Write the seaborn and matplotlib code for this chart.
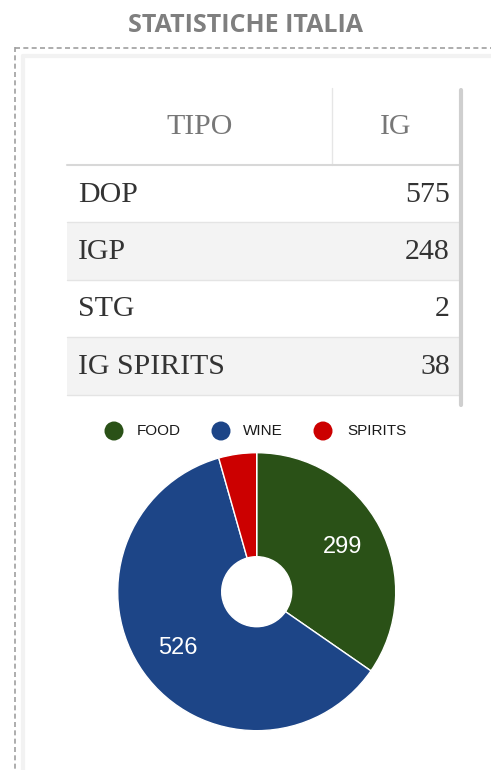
import matplotlib
matplotlib.use("Agg")
import matplotlib.pyplot as plt
from matplotlib.patches import Rectangle, Circle
import seaborn as sns

# ---- data ----
title = "STATISTICHE ITALIA"
table_header = ["TIPO", "IG"]
table_types = ["DOP", "IGP", "STG", "IG SPIRITS"]
table_counts = [575, 248, 2, 38]

pie_categories = ["FOOD", "WINE", "SPIRITS"]
pie_values = [299, 526, 38]
pie_colors = ["#2a5117", "#1d4587", "#cc0000"]

sns.set_theme(style="white")
plt.rcParams['font.family'] = ['DejaVu Sans']

W, H = 491, 770
fig = plt.figure(figsize=(W / 100, H / 100), dpi=100)
fig.patch.set_facecolor("white")

# background axes in pixel coords
bg = fig.add_axes([0, 0, 1, 1])
bg.set_xlim(0, W)
bg.set_ylim(H, 0)
bg.axis("off")

# title
bg.text(246, 25, title, ha="center", va="center", fontsize=18,
        fontweight="bold", color="#7f7f7f", family="Open Sans")

# dashed frame
bg.plot([15.5, 15.5], [47, H], ls=(0, (3, 2)), color="#a0a0a0", lw=1.2)
bg.plot([15.5, W], [47.5, 47.5], ls=(0, (3, 2)), color="#a0a0a0", lw=1.2)
# subtle inner shadow
bg.plot([23, 23], [56, H], color="#f2f2f2", lw=3)
bg.plot([23, W], [56, 56], color="#f2f2f2", lw=3)

# table
tx0, tx1, tdiv = 67, 459, 332
head_top, head_bot = 88, 165
row_h = 57.4
serif = "Liberation Serif"
fs_tab = 21.5
bg.text((tx0 + tdiv) / 2, 127, table_header[0], ha="center", va="center",
        fontsize=fs_tab, color="#777777", family=serif)
bg.text((tdiv + tx1) / 2, 127, table_header[1], ha="center", va="center",
        fontsize=fs_tab, color="#777777", family=serif)
bg.plot([tdiv, tdiv], [head_top, head_bot], color="#e6e6e6", lw=1)
bg.plot([tx0, tx1], [head_bot, head_bot], color="#d8d8d8", lw=1.5)
for i, (t, c) in enumerate(zip(table_types, table_counts)):
    y0 = head_bot + i * row_h
    face = "#f3f3f3" if i % 2 == 1 else "white"
    bg.add_patch(Rectangle((tx0, y0), tx1 - tx0, row_h, facecolor=face,
                           edgecolor="none"))
    bg.plot([tx0, tx1], [y0 + row_h, y0 + row_h], color="#e4e4e4", lw=1)
    yc = y0 + row_h / 2 + 1
    bg.text(78, yc, t, ha="left", va="center", fontsize=fs_tab,
            color="#333333", family=serif)
    bg.text(450, yc, str(c), ha="right", va="center", fontsize=fs_tab,
            color="#333333", family=serif)
# right border of table
bg.plot([461, 461], [90, 405], color="#cfcfcf", lw=3)

# legend
leg_x = [114, 221, 323]
leg_tx = [137, 243, 347]
for cx, lx, lab, col in zip(leg_x, leg_tx, pie_categories, pie_colors):
    bg.add_patch(Circle((cx, 431), 9.5, facecolor=col, edgecolor="none"))
    bg.text(lx, 431, lab, ha="left", va="center", fontsize=11,
            color="#1a1a1a", family="Liberation Sans")

# pie
cx, cy, R = 256.7, 591.7, 139
ax = fig.add_axes([(cx - R) / W, 1 - (cy + R) / H, 2 * R / W, 2 * R / H])
wedges, texts = ax.pie(pie_values, colors=pie_colors, startangle=90,
                       counterclock=False, radius=1,
                       labels=[str(v) if v > 100 else "" for v in pie_values],
                       labeldistance=0.70,
                       wedgeprops=dict(width=1 - 35 / 139, edgecolor="white",
                                       linewidth=1),
                       textprops=dict(color="white", fontsize=17,
                                      family="Liberation Sans"))
ax.set_xlim(-1, 1)
ax.set_ylim(-1, 1)
ax.set_aspect("equal")
ax.axis("off")
for t in texts:
    t.set_ha("center")
    t.set_va("center")

fig.savefig("out.png", dpi=100)
